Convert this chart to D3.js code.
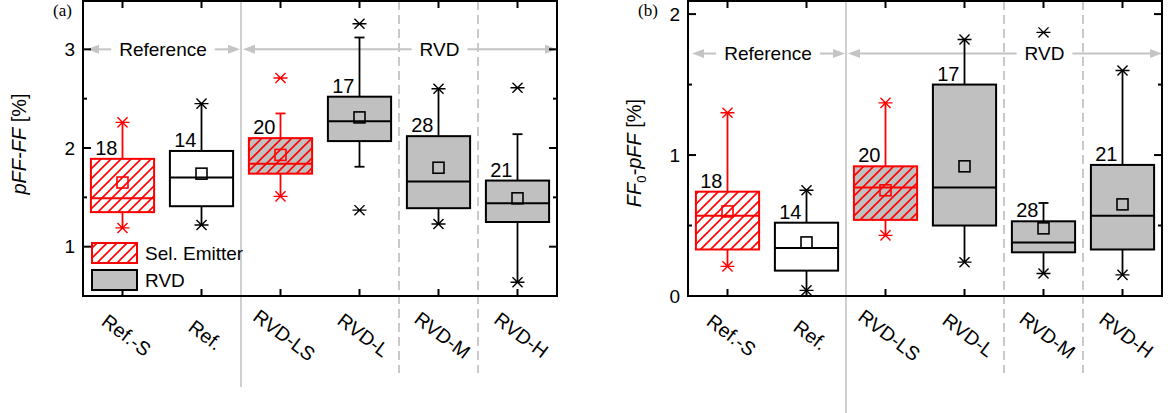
<!DOCTYPE html>
<html>
<head>
<meta charset="utf-8">
<script src="https://cdn.jsdelivr.net/npm/d3@7/dist/d3.min.js"></script>
<style>
  html, body { margin: 0; padding: 0; background: #fff; }
  svg { display: block; font-family: "Liberation Sans", Arial, sans-serif; }
</style>
</head>
<body>
<svg id="chart" width="1170" height="413"></svg>
<script>
// Categories and group information
const categories = ["Ref.-S", "Ref.", "RVD-LS", "RVD-L", "RVD-M", "RVD-H"];
const counts = [18, 14, 20, 17, 28, 21];
const selEmitter = [true, false, true, false, false, false];
const rvdGroup = [false, false, true, true, true, true];

// Panel (a): pFF - FF [%]
const aQ1 = [1.35, 1.41, 1.74, 2.07, 1.39, 1.25];
const aMedian = [1.49, 1.70, 1.84, 2.27, 1.66, 1.44];
const aQ3 = [1.89, 1.97, 2.10, 2.52, 2.12, 1.67];
const aMean = [1.65, 1.74, 1.93, 2.31, 1.80, 1.49];
const aWhiskerLo = [1.19, 1.22, 1.51, 1.81, 1.23, 0.64];
const aWhiskerHi = [2.26, 2.45, 2.35, 3.12, 2.60, 2.14];
const aMin = [1.19, 1.22, 1.51, 1.37, 1.23, 0.64];
const aMax = [2.26, 2.45, 2.71, 3.26, 2.60, 2.61];
const aTicks = [1, 2, 3];
const aMinorTicks = [1.5, 2.5];

// Panel (b): FF0 - pFF [%]
const bQ1 = [0.33, 0.18, 0.54, 0.50, 0.31, 0.33];
const bMedian = [0.57, 0.34, 0.77, 0.77, 0.38, 0.57];
const bQ3 = [0.74, 0.52, 0.92, 1.50, 0.53, 0.93];
const bMean = [0.60, 0.38, 0.75, 0.92, 0.48, 0.65];
const bWhiskerLo = [0.21, 0.04, 0.43, 0.24, 0.16, 0.15];
const bWhiskerHi = [1.30, 0.75, 1.37, 1.82, 0.66, 1.60];
const bMin = [0.21, 0.04, 0.43, 0.24, 0.16, 0.15];
const bMax = [1.30, 0.75, 1.37, 1.82, 1.87, 1.60];
const bTicks = [0, 1, 2];
const bMinorTicks = [0.5, 1.5];

const RED = "#ff0000";
const GRAY_FILL = "#c0c0c0";
const SEP = "#c4c4c4";

const svg = d3.select("#chart");
const defs = svg.append("defs");
defs.append("pattern")
  .attr("id", "hatch")
  .attr("patternUnits", "userSpaceOnUse")
  .attr("width", 10).attr("height", 10)
  .append("path")
  .attr("d", "M-2,2 L2,-2 M0,10 L10,0 M8,12 L12,8")
  .attr("stroke", RED).attr("stroke-width", 1.6);

function starPath(cx, cy, r) {
  const d = r * 0.72;
  return `M${cx - d},${cy - d}L${cx + d},${cy + d}M${cx - d},${cy + d}L${cx + d},${cy - d}M${cx - r},${cy}L${cx + r},${cy}`;
}

function drawPanel(cfg) {
  const g = svg.append("g");
  const x = d3.scaleBand().domain(categories).range([cfg.left, cfg.right]).padding(0);
  const y = d3.scaleLinear().domain(cfg.domain).range([cfg.bottom, cfg.top]);
  const bw = x.bandwidth();
  const boxW = bw * 0.8;
  const cx = c => x(c) + bw / 2;

  // Group separators
  const sepX = x(categories[2]);
  g.append("line").attr("x1", sepX).attr("x2", sepX)
    .attr("y1", cfg.top).attr("y2", cfg.sepBottom)
    .attr("stroke", SEP).attr("stroke-width", 1.6);
  [categories[4], categories[5]].forEach(c => {
    g.append("line").attr("x1", x(c)).attr("x2", x(c))
      .attr("y1", cfg.top).attr("y2", cfg.bottom + 77)
      .attr("stroke", SEP).attr("stroke-width", 1.8)
      .attr("stroke-dasharray", "9,5");
  });

  // Group arrows
  const ay = y(cfg.arrowValue);
  function arrowSegment(xTip, xEnd) {
    const dir = xTip < xEnd ? 1 : -1;
    g.append("line").attr("x1", xTip + dir * 8).attr("x2", xEnd)
      .attr("y1", ay).attr("y2", ay)
      .attr("stroke", SEP).attr("stroke-width", 2);
    g.append("path")
      .attr("d", `M${xTip},${ay}L${xTip + dir * 12},${ay - 4.5}L${xTip + dir * 12},${ay + 4.5}Z`)
      .attr("fill", SEP);
  }
  function groupArrow(label, x0, x1, tx) {
    const t = g.append("text").attr("x", tx).attr("y", ay)
      .attr("text-anchor", "middle").attr("dominant-baseline", "central")
      .attr("font-size", 19).attr("fill", "#000").text(label);
    const w = t.node().getComputedTextLength();
    arrowSegment(x0, tx - w / 2 - 8);
    arrowSegment(x1, tx + w / 2 + 8);
  }
  groupArrow("Reference", cfg.left + 4, sepX - 1, x(categories[1]) + 1);
  groupArrow("RVD", sepX + 2, cfg.right, cx(categories[4]) + 1);

  // Boxes
  categories.forEach((c, i) => {
    const sx = cx(c);
    const col = selEmitter[i] ? RED : "#000";
    const yTop = y(cfg.q3[i]), yBot = y(cfg.q1[i]);

    // whiskers
    g.append("line").attr("x1", sx).attr("x2", sx)
      .attr("y1", yTop).attr("y2", y(cfg.wHi[i]))
      .attr("stroke", col).attr("stroke-width", 1.8);
    g.append("line").attr("x1", sx).attr("x2", sx)
      .attr("y1", yBot).attr("y2", y(cfg.wLo[i]))
      .attr("stroke", col).attr("stroke-width", 1.8);
    if (cfg.max[i] > cfg.wHi[i]) {
      g.append("line").attr("x1", sx - 5).attr("x2", sx + 5)
        .attr("y1", y(cfg.wHi[i])).attr("y2", y(cfg.wHi[i]))
        .attr("stroke", col).attr("stroke-width", 1.8);
    }
    if (cfg.min[i] < cfg.wLo[i]) {
      g.append("line").attr("x1", sx - 5).attr("x2", sx + 5)
        .attr("y1", y(cfg.wLo[i])).attr("y2", y(cfg.wLo[i]))
        .attr("stroke", col).attr("stroke-width", 1.8);
    }

    // box body
    g.append("rect").attr("x", sx - boxW / 2).attr("y", yTop)
      .attr("width", boxW).attr("height", yBot - yTop)
      .attr("fill", rvdGroup[i] ? GRAY_FILL : "#fff");
    if (selEmitter[i]) {
      g.append("rect").attr("x", sx - boxW / 2).attr("y", yTop)
        .attr("width", boxW).attr("height", yBot - yTop)
        .attr("fill", "url(#hatch)");
    }
    g.append("rect").attr("x", sx - boxW / 2).attr("y", yTop)
      .attr("width", boxW).attr("height", yBot - yTop)
      .attr("fill", "none").attr("stroke", col).attr("stroke-width", 2);

    // median
    g.append("line").attr("x1", sx - boxW / 2).attr("x2", sx + boxW / 2)
      .attr("y1", y(cfg.median[i])).attr("y2", y(cfg.median[i]))
      .attr("stroke", col).attr("stroke-width", 2);

    // mean
    g.append("rect").attr("x", sx - 5.5).attr("y", y(cfg.mean[i]) - 5.5)
      .attr("width", 11).attr("height", 11)
      .attr("fill", "none").attr("stroke", col).attr("stroke-width", 1.6);

    // min / max markers
    [cfg.min[i], cfg.max[i]].forEach(v => {
      g.append("path").attr("d", starPath(sx, y(v), 7))
        .attr("stroke", col).attr("stroke-width", 1.4).attr("fill", "none");
    });

    // sample count
    g.append("text").attr("x", sx - 5).attr("y", yTop - 4)
      .attr("text-anchor", "end").attr("font-size", 20).attr("fill", "#000")
      .text(counts[i]);
  });

  // Frame
  g.append("rect").attr("x", cfg.left).attr("y", cfg.top)
    .attr("width", cfg.right - cfg.left).attr("height", cfg.bottom - cfg.top)
    .attr("fill", "none").attr("stroke", "#000").attr("stroke-width", 2);

  // Y ticks (inward, both sides)
  cfg.ticks.forEach(v => {
    const ty = y(v);
    g.append("line").attr("x1", cfg.left).attr("x2", cfg.left + 8).attr("y1", ty).attr("y2", ty)
      .attr("stroke", "#000").attr("stroke-width", 2);
    g.append("line").attr("x1", cfg.right).attr("x2", cfg.right - 8).attr("y1", ty).attr("y2", ty)
      .attr("stroke", "#000").attr("stroke-width", 2);
    g.append("text").attr("x", cfg.left - 8).attr("y", ty)
      .attr("text-anchor", "end").attr("dominant-baseline", "central")
      .attr("font-size", 19).text(v);
  });
  cfg.minor.forEach(v => {
    const ty = y(v);
    g.append("line").attr("x1", cfg.left).attr("x2", cfg.left + 4).attr("y1", ty).attr("y2", ty)
      .attr("stroke", "#000").attr("stroke-width", 2);
    g.append("line").attr("x1", cfg.right).attr("x2", cfg.right - 4).attr("y1", ty).attr("y2", ty)
      .attr("stroke", "#000").attr("stroke-width", 2);
  });

  // X ticks (inward, top and bottom) and rotated labels
  categories.forEach(c => {
    const sx = cx(c);
    g.append("line").attr("x1", sx).attr("x2", sx).attr("y1", cfg.bottom).attr("y2", cfg.bottom - 7)
      .attr("stroke", "#000").attr("stroke-width", 2);
    g.append("line").attr("x1", sx).attr("x2", sx).attr("y1", cfg.top).attr("y2", cfg.top + 7)
      .attr("stroke", "#000").attr("stroke-width", 2);
    g.append("text")
      .attr("transform", `translate(${sx + 4},${cfg.bottom + 39}) rotate(37)`)
      .attr("text-anchor", "middle").attr("dominant-baseline", "central")
      .attr("font-size", 19.5).text(c);
  });

  // Panel letter
  svg.append("text").attr("x", cfg.letterX).attr("y", 16)
    .attr("font-family", "'Liberation Serif', 'Times New Roman', serif")
    .attr("font-size", 17).text(cfg.letter);

  return { g, x, y };
}

// Panel (a)
drawPanel({
  left: 83, right: 557, top: 1, bottom: 296, sepBottom: 387,
  domain: [0.5, 3.5 - 1 / 98.7], ticks: aTicks, minor: aMinorTicks,
  q1: aQ1, median: aMedian, q3: aQ3, mean: aMean,
  wLo: aWhiskerLo, wHi: aWhiskerHi, min: aMin, max: aMax,
  arrowValue: 3, letter: "(a)", letterX: 53
});

// Panel (b)
drawPanel({
  left: 688, right: 1162, top: 1, bottom: 296, sepBottom: 413,
  domain: [0, 2.1 - 1 / 141], ticks: bTicks, minor: bMinorTicks,
  q1: bQ1, median: bMedian, q3: bQ3, mean: bMean,
  wLo: bWhiskerLo, wHi: bWhiskerHi, min: bMin, max: bMax,
  arrowValue: 1.72, letter: "(b)", letterX: 638
});

// Y-axis titles
const ta = svg.append("text")
  .attr("transform", "translate(26,144) rotate(-90)")
  .attr("text-anchor", "middle").attr("font-size", 20);
ta.append("tspan").attr("font-style", "italic").text("pFF-FF");
ta.append("tspan").text(" [%]");

const tb = svg.append("text")
  .attr("transform", "translate(641,153) rotate(-90)")
  .attr("text-anchor", "middle").attr("font-size", 20);
tb.append("tspan").attr("font-style", "italic").text("FF");
tb.append("tspan").attr("font-size", 13).attr("dy", 5).text("0");
tb.append("tspan").attr("dy", -5).attr("font-style", "italic").text("-pFF");
tb.append("tspan").text(" [%]");

// Legend (panel a)
const lg = svg.append("g");
const legendItems = [
  { label: "Sel. Emitter", fill: "url(#hatch)", stroke: RED, y: 243 },
  { label: "RVD", fill: GRAY_FILL, stroke: "#000", y: 270 }
];
legendItems.forEach(d => {
  lg.append("rect").attr("x", 92).attr("y", d.y).attr("width", 45).attr("height", 20)
    .attr("fill", "#fff");
  lg.append("rect").attr("x", 92).attr("y", d.y).attr("width", 45).attr("height", 20)
    .attr("fill", d.fill).attr("stroke", d.stroke).attr("stroke-width", 2);
  lg.append("text").attr("x", 145).attr("y", d.y + 10)
    .attr("dominant-baseline", "central").attr("font-size", 19).text(d.label);
});
</script>
</body>
</html>
